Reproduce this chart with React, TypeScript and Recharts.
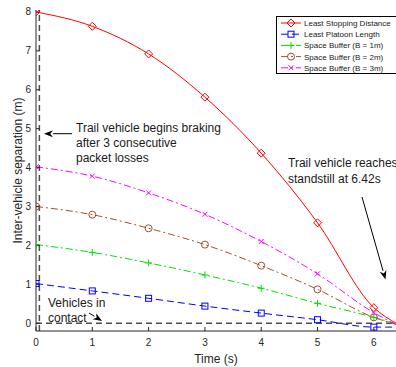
import React from 'react';
import { LineChart, Line, XAxis, YAxis, ReferenceLine } from 'recharts';

// time axis (s) and separations (m)
const TIME = [0, 1, 2, 3, 4, 5, 6, 6.42];
const STOPPING = [8, 7.63, 6.92, 5.81, 4.37, 2.58, 0.4, -0.02];
const PLATOON = [1.02, 0.83, 0.64, 0.44, 0.26, 0.09, -0.1, -0.1];
const BUFFER_1 = [2.02, 1.82, 1.55, 1.24, 0.9, 0.51, 0.15, -0.03];
const BUFFER_2 = [3.0, 2.79, 2.44, 2.02, 1.48, 0.87, 0.15, -0.04];
const BUFFER_3 = [4.02, 3.78, 3.35, 2.8, 2.1, 1.27, 0.27, -0.05];

const X_TICKS = [0, 1, 2, 3, 4, 5, 6];
const Y_TICKS = [0, 1, 2, 3, 4, 5, 6, 7, 8];
const BRAKE_START = 0.06;

type Marker = 'diamond' | 'square' | 'plus' | 'circle' | 'cross';

const SERIES: { key: string; name: string; color: string; dash?: string; marker: Marker; values: number[] }[] = [
  { key: 'stop', name: 'Least Stopping Distance', color: '#ff0000', marker: 'diamond', values: STOPPING },
  { key: 'platoon', name: 'Least Platoon Length', color: '#0000ff', dash: '7 4', marker: 'square', values: PLATOON },
  { key: 'b1', name: 'Space Buffer (B = 1m)', color: '#00e000', dash: '7 3 2 3', marker: 'plus', values: BUFFER_1 },
  { key: 'b2', name: 'Space Buffer (B = 2m)', color: '#a0522d', dash: '7 3 2 3', marker: 'circle', values: BUFFER_2 },
  { key: 'b3', name: 'Space Buffer (B = 3m)', color: '#ff00ff', dash: '7 3 2 3', marker: 'cross', values: BUFFER_3 },
];

const data = TIME.map((t, i) => {
  const row: Record<string, number> = { t };
  SERIES.forEach((s) => { row[s.key] = s.values[i]; });
  return row;
});

const AXIS = '#262626';
const FONT = 'Arial, "Liberation Sans", Helvetica, sans-serif';

function drawMarker(kind: Marker, cx: number, cy: number, color: string, key?: React.Key) {
  const p = { stroke: color, strokeWidth: 1, fill: 'none' };
  switch (kind) {
    case 'diamond':
      return <polygon key={key} {...p} points={`${cx},${cy - 4} ${cx + 4},${cy} ${cx},${cy + 4} ${cx - 4},${cy}`} />;
    case 'square':
      return <rect key={key} {...p} x={cx - 3} y={cy - 3} width={6} height={6} />;
    case 'plus':
      return (
        <g key={key} {...p}>
          <line x1={cx - 3.5} y1={cy} x2={cx + 3.5} y2={cy} />
          <line x1={cx} y1={cy - 3.5} x2={cx} y2={cy + 3.5} />
        </g>
      );
    case 'circle':
      return <circle key={key} {...p} cx={cx} cy={cy} r={3.5} />;
    default:
      return (
        <g key={key} {...p}>
          <line x1={cx - 2.5} y1={cy - 2.5} x2={cx + 2.5} y2={cy + 2.5} />
          <line x1={cx - 2.5} y1={cy + 2.5} x2={cx + 2.5} y2={cy - 2.5} />
        </g>
      );
  }
}

const makeDot = (kind: Marker, color: string) => (props: any) => {
  const { cx, cy, payload, index } = props;
  if (!Number.isInteger(payload.t)) return <g key={`d-${index}`} />;
  return drawMarker(kind, cx, cy, color, `d-${index}`);
};

const Arrow = ({ x1, y1, x2, y2 }: { x1: number; y1: number; x2: number; y2: number }) => {
  const a = Math.atan2(y2 - y1, x2 - x1);
  const len = 9;
  const w = 3.5;
  const bx = x2 - len * Math.cos(a);
  const by = y2 - len * Math.sin(a);
  const px = -Math.sin(a) * w;
  const py = Math.cos(a) * w;
  return (
    <g>
      <line x1={x1} y1={y1} x2={bx} y2={by} stroke="#000" strokeWidth={1} />
      <polygon points={`${x2},${y2} ${bx + px},${by + py} ${bx + (x2 - bx) * 0.3},${by + (y2 - by) * 0.3} ${bx - px},${by - py}`} fill="#000" />
    </g>
  );
};

const tickStyle = { fill: AXIS, fontSize: 10, fontFamily: FONT };

export default function App() {
  return (
    <div style={{ position: 'absolute', left: 0, top: 0, width: 396, height: 367, overflow: 'hidden', background: '#fff' }}>
      <LineChart width={410} height={367} data={data} margin={{ top: 10, right: 8, bottom: 0, left: 0 }}>
        <XAxis
          dataKey="t"
          type="number"
          domain={[0, 6.5]}
          ticks={X_TICKS}
          allowDataOverflow
          height={36}
          tickSize={-4}
          tickMargin={12}
          stroke={AXIS}
          tick={tickStyle}
          label={{ value: 'Time (s)', position: 'insideBottom', offset: 4, dx: -3, style: { fill: AXIS, fontSize: 12, fontFamily: FONT } }}
        />
        <XAxis
          xAxisId="top"
          dataKey="t"
          type="number"
          orientation="top"
          domain={[0, 6.5]}
          ticks={X_TICKS}
          allowDataOverflow
          height={0}
          tickSize={-4}
          tick={false}
          stroke={AXIS}
        />
        <YAxis
          type="number"
          domain={[-0.2, 8.05]}
          ticks={Y_TICKS}
          allowDataOverflow
          width={36}
          tickSize={-4}
          tickMargin={9}
          stroke={AXIS}
          tick={tickStyle}
          label={{ value: 'Inter-vehicle separation (m)', angle: -90, position: 'insideLeft', offset: 18, style: { textAnchor: 'middle', fill: AXIS, fontSize: 12, fontFamily: FONT } }}
        />
        <ReferenceLine x={BRAKE_START} stroke="#4d4d4d" strokeWidth={1.5} strokeDasharray="6 4" />
        <ReferenceLine y={0} stroke="#4d4d4d" strokeWidth={1.5} strokeDasharray="6 4" />
        {SERIES.map((s) => (
          <Line
            key={s.key}
            dataKey={s.key}
            name={s.name}
            type="monotone"
            stroke={s.color}
            strokeWidth={1}
            strokeDasharray={s.dash}
            dot={makeDot(s.marker, s.color)}
            activeDot={false}
            isAnimationActive={false}
          />
        ))}
      </LineChart>
      <svg width={396} height={367} style={{ position: 'absolute', left: 0, top: 0, pointerEvents: 'none' }} fontFamily={FONT}>
        <g fill="#1a1a1a" fontSize={12}>
          <text x={76} y={131.5}>Trail vehicle begins braking</text>
          <text x={76} y={146.7}>after 3 consecutive</text>
          <text x={76} y={161.8}>packet losses</text>
          <text x={288} y={167.3}>Trail vehicle reaches</text>
          <text x={288} y={182.5}>standstill at 6.42s</text>
          <text x={48} y={306.7}>Vehicles in</text>
          <text x={48} y={321.7}>contact</text>
        </g>
        <Arrow x1={72} y1={133.7} x2={44} y2={133.7} />
        <Arrow x1={362} y1={197} x2={385.5} y2={279.5} />
        <Arrow x1={89} y1={313} x2={102} y2={321} />
        <g>
          <rect x={276.5} y={16.5} width={130} height={57} fill="#fff" stroke="#000" strokeWidth={1} />
          {SERIES.map((s, i) => {
            const y = 23 + i * 11.2;
            return (
              <g key={s.key}>
                <line x1={281} y1={y} x2={301} y2={y} stroke={s.color} strokeWidth={1} strokeDasharray={s.dash} />
                {drawMarker(s.marker, 291, y, s.color)}
                <text x={304} y={y + 3} fontSize={8} fill="#1a1a1a">{s.name}</text>
              </g>
            );
          })}
        </g>
      </svg>
    </div>
  );
}
